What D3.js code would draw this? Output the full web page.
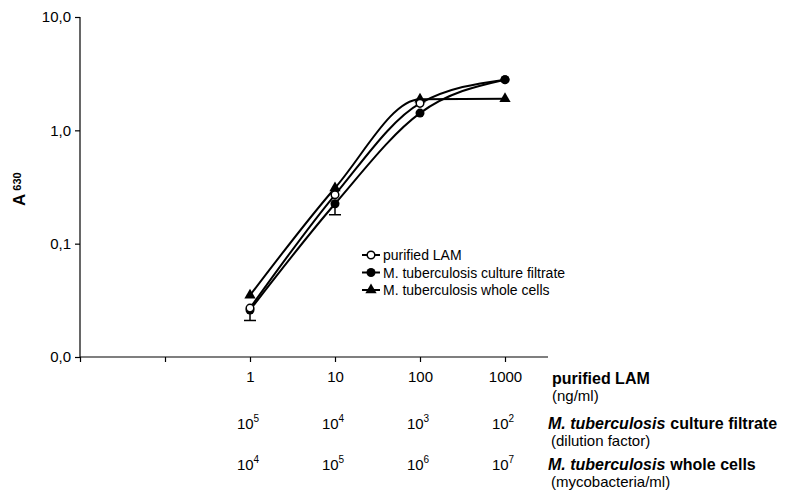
<!DOCTYPE html>
<html>
<head>
<meta charset="utf-8">
<script src="https://cdn.jsdelivr.net/npm/d3@7"></script>
<style>
body { margin:0; background:#fff; }
svg { font-family:"Liberation Sans", Arial, sans-serif; }
.axis path, .axis line { stroke:#000; stroke-width:1.2; }
.axis text { font-size:15px; fill:#000; font-family:"Liberation Sans", Arial, sans-serif; }
.series { fill:none; stroke:#000; stroke-width:2; }
.legend text { font-size:14px; }
.bottom text { font-size:15px; }
.bottom text.hd { font-size:16px; font-weight:bold; }
</style>
</head>
<body>
<svg width="787" height="492"></svg>
<script>

// LAM concentration (ng/ml) used as x position
var doses = [1, 10, 100, 1000]

var lamValues = [0.027, 0.27, 1.73, 2.8]
var filtrateValues = [0.026, 0.225, 1.42, 2.8]
var cellsValues = [0.035, 0.31, 1.88, 1.9]
var filtrateErr = [0.005, 0.045, 0, 0]

var yTicks = [0.01, 0.1, 1, 10]
var yTickLabels = ["0,0", "0,1", "1,0", "10,0"]
var xTicks = [0.01, 0.1, 1, 10, 100, 1000]
var xTickLabels = ["", "", "1", "10", "100", "1000"]

var filtrateExp = ["5", "4", "3", "2"]
var cellsExp = ["4", "5", "6", "7"]

var seriesNames = ["purified LAM", "M. tuberculosis culture filtrate", "M. tuberculosis whole cells"]

var svg = d3.select("svg")

var xScale = d3.scaleLog()
    .domain([0.01, 1000])
    .range([80, 505])

var yScale = d3.scaleLog()
    .domain([0.01, 10])
    .range([357, 17])

//axes
var xAxis = d3.axisBottom(xScale)
    .tickValues(xTicks)
    .tickSize(5)
    .tickFormat(function(d, i) { return xTickLabels[i]; })

var yAxis = d3.axisLeft(yScale)
    .tickValues(yTicks)
    .tickSize(5)
    .tickFormat(function(d, i) { return yTickLabels[i]; })

var gx = svg.append("g")
    .classed("axis", true)
    .attr("transform", "translate(0,357)")
    .call(xAxis)
gx.select(".domain").remove()
gx.append("line")
    .attr("x1", 80).attr("x2", 548)
    .attr("y1", 0).attr("y2", 0)
gx.selectAll(".tick text").attr("dy", "1.1em")

var gy = svg.append("g")
    .classed("axis", true)
    .attr("transform", "translate(80,0)")
    .call(yAxis)
gy.select(".domain").remove()
gy.append("line")
    .attr("x1", 0).attr("x2", 0)
    .attr("y1", 17).attr("y2", 357)
gy.selectAll(".tick text").attr("x", -9)

//y label
var ylab = svg.append("text")
    .attr("transform", "translate(25,206) rotate(-90)")
    .attr("font-weight", "bold")
ylab.append("tspan").attr("font-size", "17px").text("A")
ylab.append("tspan").attr("font-size", "11px").attr("dx", 3).attr("dy", -4).text("630")

//lines
var line = d3.line()
    .x(function(d) { return xScale(d.x); })
    .y(function(d) { return yScale(d.y); })
    .curve(d3.curveMonotoneX)

var makePoints = function(values)
{
    return doses.map(function(d, i) { return {x:d, y:values[i]}; })
}

var plot = svg.append("g")

//error bars for culture filtrate
plot.selectAll(".err")
    .data(makePoints(filtrateValues).filter(function(d, i) { return filtrateErr[i] > 0; }))
    .enter()
    .append("g")
    .each(function(d, i)
    {
        var e = filtrateErr[i]
        var g = d3.select(this)
        g.append("line")
            .attr("x1", xScale(d.x)).attr("x2", xScale(d.x))
            .attr("y1", yScale(d.y)).attr("y2", yScale(d.y - e))
            .attr("stroke", "#000").attr("stroke-width", 1.5)
        g.append("line")
            .attr("x1", xScale(d.x) - 6).attr("x2", xScale(d.x) + 6)
            .attr("y1", yScale(d.y - e)).attr("y2", yScale(d.y - e))
            .attr("stroke", "#000").attr("stroke-width", 1.5)
    })

var allSeries = [lamValues, filtrateValues, cellsValues]

allSeries.forEach(function(values)
{
    plot.append("path")
        .classed("series", true)
        .attr("d", line(makePoints(values)))
})

var triangle = d3.symbol().type(d3.symbolTriangle).size(55)

//markers
plot.selectAll(".tri")
    .data(makePoints(cellsValues))
    .enter()
    .append("path")
    .attr("d", triangle)
    .attr("transform", function(d) { return "translate(" + xScale(d.x) + "," + yScale(d.y) + ")"; })
    .attr("fill", "#000")

plot.selectAll(".fc")
    .data(makePoints(filtrateValues))
    .enter()
    .append("circle")
    .attr("cx", function(d) { return xScale(d.x); })
    .attr("cy", function(d) { return yScale(d.y); })
    .attr("r", 4.5)
    .attr("fill", "#000")

plot.selectAll(".oc")
    .data(makePoints(lamValues).slice(0, 3))
    .enter()
    .append("circle")
    .attr("cx", function(d) { return xScale(d.x); })
    .attr("cy", function(d) { return yScale(d.y); })
    .attr("r", 3.8)
    .attr("fill", "#fff")
    .attr("stroke", "#000")
    .attr("stroke-width", 1.5)

plot.append("circle")
    .attr("cx", xScale(1000))
    .attr("cy", yScale(lamValues[3]))
    .attr("r", 4.5)
    .attr("fill", "#000")

//legend
var legend = svg.append("g")
    .classed("legend", true)
    .attr("transform", "translate(362,255)")

var entries = legend.selectAll("g")
    .data(seriesNames)
    .enter()
    .append("g")
    .attr("transform", function(d, i) { return "translate(0," + i * 17.5 + ")"; })

entries.append("line")
    .attr("x1", 0).attr("x2", 18)
    .attr("stroke", "#000").attr("stroke-width", 2)

entries.each(function(d, i)
{
    var g = d3.select(this)
    if(i == 0)
    {
        g.append("circle").attr("cx", 9).attr("r", 3.8)
            .attr("fill", "#fff").attr("stroke", "#000").attr("stroke-width", 1.5)
    }
    else if(i == 1)
    {
        g.append("circle").attr("cx", 9).attr("r", 4.5).attr("fill", "#000")
    }
    else
    {
        g.append("path").attr("d", triangle).attr("transform", "translate(9,0)").attr("fill", "#000")
    }
})

entries.append("text")
    .text(function(d) { return d; })
    .attr("x", 21)
    .attr("y", 5)

//bottom rows
var bottom = svg.append("g").classed("bottom", true)

var powRow = function(exps, y)
{
    var t = bottom.selectAll(null)
        .data(doses)
        .enter()
        .append("text")
        .attr("x", function(d) { return xScale(d) - 2; })
        .attr("y", y)
        .attr("text-anchor", "middle")
    t.append("tspan").text("10")
    t.append("tspan")
        .attr("font-size", "10px")
        .attr("dy", -7)
        .text(function(d, i) { return exps[i]; })
}
powRow(filtrateExp, 429)
powRow(cellsExp, 470)

bottom.append("text").attr("x", 552).attr("y", 384)
    .classed("hd", true).text("purified LAM")
bottom.append("text").attr("x", 552).attr("y", 401).text("(ng/ml)")

var t2 = bottom.append("text").attr("x", 548).attr("y", 429).classed("hd", true)
t2.append("tspan").attr("font-style", "italic").text("M. tuberculosis")
t2.append("tspan").attr("dx", 5).text("culture filtrate")
bottom.append("text").attr("x", 551).attr("y", 446).text("(dilution factor)")

var t3 = bottom.append("text").attr("x", 548).attr("y", 470).classed("hd", true)
t3.append("tspan").attr("font-style", "italic").text("M. tuberculosis")
t3.append("tspan").attr("dx", 5).text("whole cells")
bottom.append("text").attr("x", 551).attr("y", 487).text("(mycobacteria/ml)")

</script>
</body>
</html>
